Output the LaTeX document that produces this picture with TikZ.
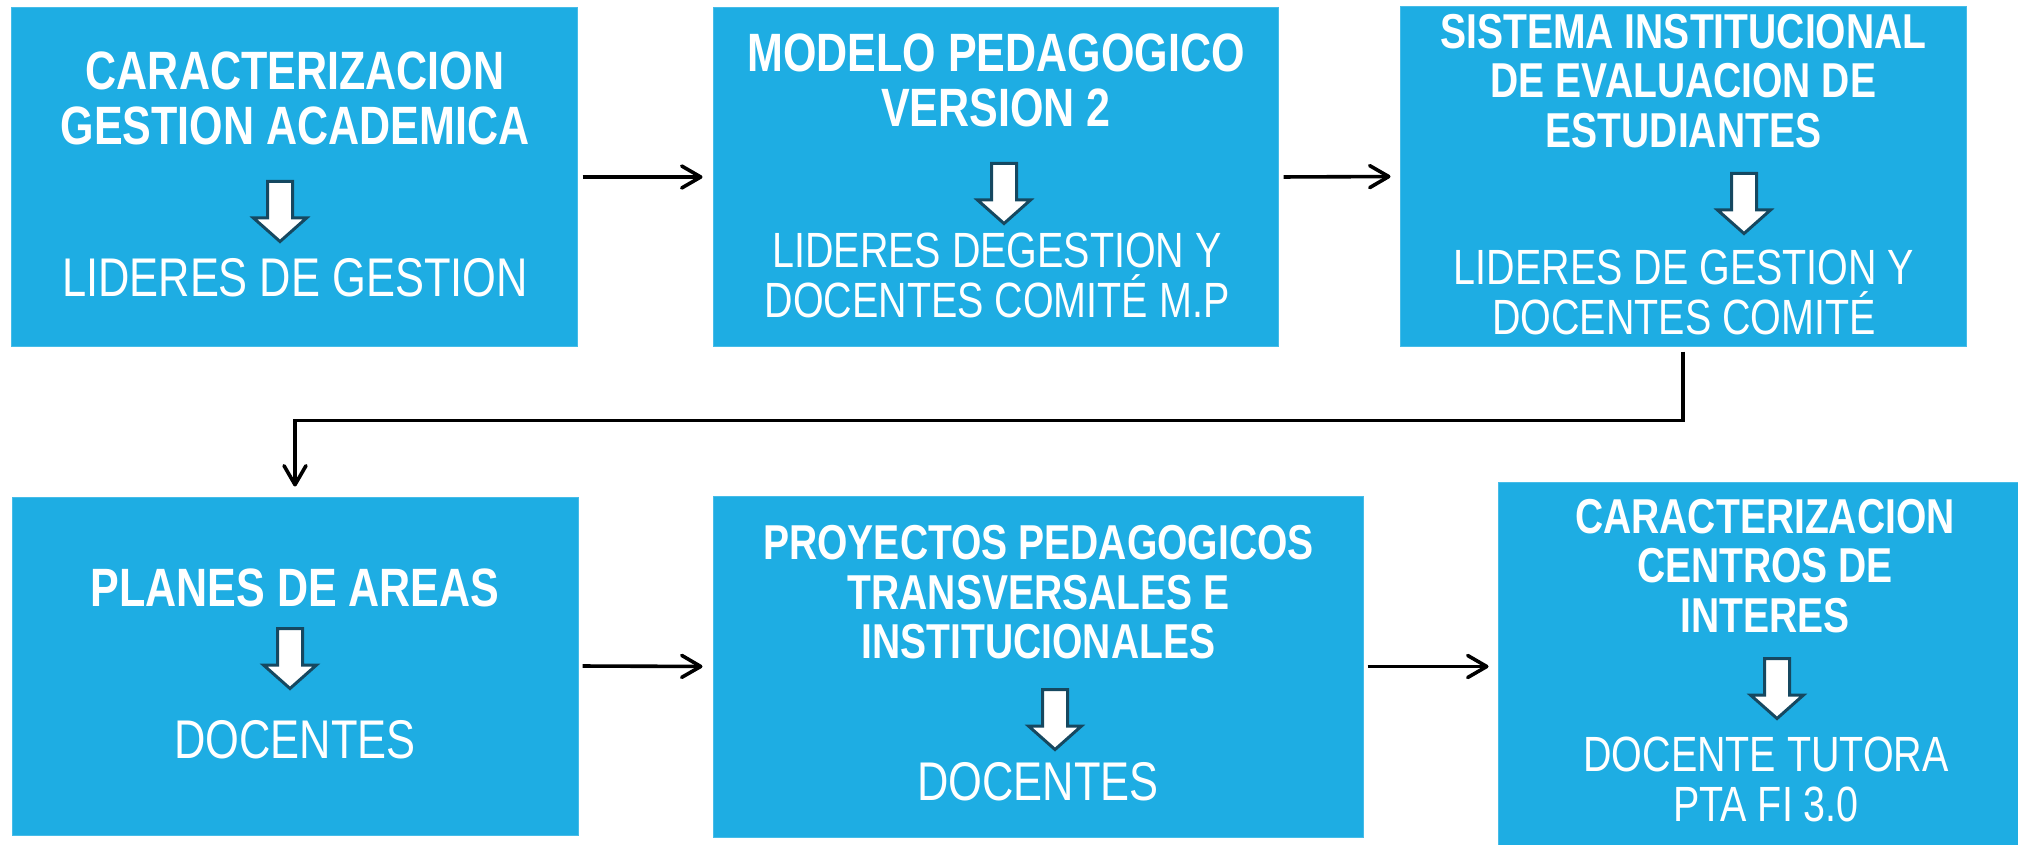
\documentclass[tikz,border=0pt]{standalone}
\usepackage{fontspec}
\setmainfont{Liberation Sans}[FakeStretch=0.797]
\usetikzlibrary{arrows.meta}
\definecolor{boxblue}{RGB}{30,173,227}
\definecolor{boxedge}{RGB}{70,188,232}
\definecolor{arrowedge}{RGB}{22,72,96}
\begin{document}
\begin{tikzpicture}[x=1pt,y=-1pt,
  box/.style={rectangle, fill=boxblue, draw=boxedge, line width=1pt, inner sep=0pt},
  headbig/.style={text=white, align=center, inner sep=0pt, font={\bfseries\fontsize{54}{55}\selectfont}},
  headsmall/.style={text=white, align=center, inner sep=0pt, font={\bfseries\fontsize{49}{49.5}\selectfont}},
  subbig/.style={text=white, align=center, inner sep=0pt, font={\fontsize{54.5}{55}\selectfont}},
  subsmall/.style={text=white, align=center, inner sep=0pt, font={\fontsize{49.5}{50}\selectfont}},
  conn/.style={draw=black, line width=3.6pt, -{Straight Barb[length=19pt,width=22pt,round]}},
  blockarrow/.pic={\draw[line width=3pt, draw=arrowedge, fill=white, line join=miter]
     (-12.5,1.5) -- (12.5,1.5) -- (12.5,38) -- (26.5,38) -- (0,61.5) -- (-26.5,38) -- (-12.5,38) -- cycle;}
]
\useasboundingbox (0,0) rectangle (2018,845);

% boxes
\node[box, minimum width=566pt, minimum height=338pt] (b1) at (294,177) {};
\node[box, minimum width=565pt, minimum height=338pt] (b2) at (995.5,177) {};
\node[box, minimum width=566pt, minimum height=339pt] (b3) at (1683,176.5) {};
\node[box, minimum width=566pt, minimum height=338pt] (b4) at (295,666) {};
\node[box, minimum width=650pt, minimum height=341pt] (b5) at (1038,666.5) {};
\node[box, minimum width=542pt, minimum height=378pt] (b6) at (1769,671) {};

% box 1
\node[headbig] (h1) at (295,98) {CARACTERIZACION\\GESTION ACADEMICA};
\pic at (280,180) {blockarrow};
\node[subbig] (s1) at (295,278) {LIDERES DE GESTION};

% box 2
\node[headbig] (h2) at (996,80) {MODELO PEDAGOGICO\\VERSION 2};
\pic at (1004,162) {blockarrow};
\node[subsmall] (s2) at (997,275) {LIDERES DEGESTION Y\\DOCENTES COMITÉ M.P};

% box 3
\node[headsmall] (h3) at (1683.5,81) {SISTEMA INSTITUCIONAL\\DE EVALUACION DE\\ESTUDIANTES};
\pic at (1744,172) {blockarrow};
\node[subsmall] (s3) at (1684,292) {LIDERES DE GESTION Y\\DOCENTES COMITÉ};

% box 4
\node[headbig] (h4) at (295,587.5) {PLANES DE AREAS};
\pic at (290,627) {blockarrow};
\node[subbig] (s4) at (295,740) {DOCENTES};

% box 5
\node[headsmall] (h5) at (1038.5,592.5) {PROYECTOS PEDAGOGICOS\\TRANSVERSALES E\\INSTITUCIONALES};
\pic at (1055,688) {blockarrow};
\node[subbig] (s5) at (1038,782) {DOCENTES};

% box 6
\node[headsmall] (h6) at (1765,566) {CARACTERIZACION\\CENTROS DE\\INTERES};
\pic at (1777,657) {blockarrow};
\node[subsmall] (s6) at (1766,779) {DOCENTE TUTORA\\PTA FI 3.0};

% connectors
\draw[conn, shorten <=5pt, shorten >=10pt] (b1.east) -- (b2.west);
\draw[conn, shorten <=5pt, shorten >=9pt] (b2.east) -- (b3.west);
\draw[conn, shorten <=5pt, shorten >=10pt, line join=miter] (b3.south) |- ([yshift=76pt]b4.north) -- (b4.north);
\draw[conn, shorten <=4pt, shorten >=10pt] (b4.east) -- (b5.west);
\draw[conn, shorten <=4pt, shorten >=9pt] (b5.east) -- (b6.west |- b5.east);
\end{tikzpicture}
\end{document}
